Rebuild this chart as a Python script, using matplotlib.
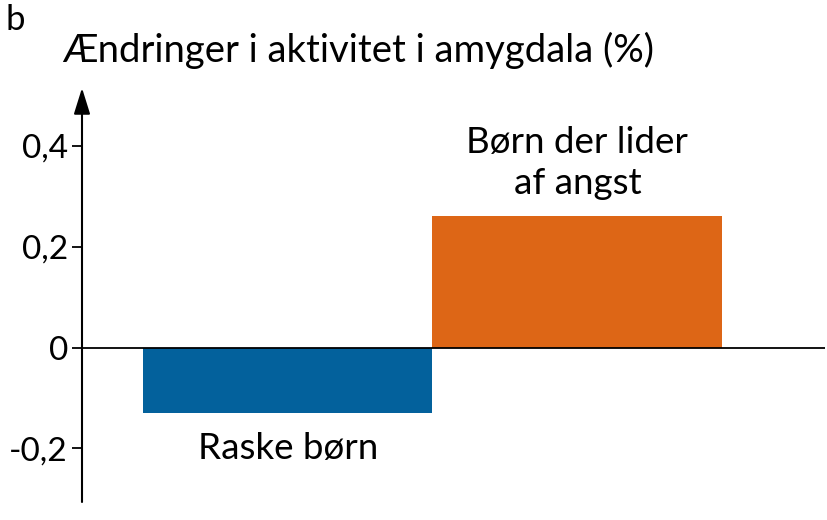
import matplotlib.pyplot as plt

# data
groups = ["Raske børn", "Børn der lider\naf angst"]
change = [-0.13, 0.26]
bar_colors = ["#03619c", "#dd6616"]
yticks = [-0.2, 0, 0.2, 0.4]
ytick_labels = ["-0,2", "0", "0,2", "0,4"]

plt.rcParams['font.family'] = ['Lato', 'DejaVu Sans']

fig = plt.figure(figsize=(8.27, 5.2), dpi=100)
ax = fig.add_axes([82 / 827, 18 / 520, 743 / 827, 414 / 520])

x = [0, 1]
ax.bar(x, change, width=1.0, color=bar_colors, align='center', zorder=2)

ax.set_xlim(-0.71, 1.855)
ax.set_ylim(-0.306, 0.514)

# zero line across the plot
ax.axhline(0, color='black', linewidth=1.3, zorder=3)

# y axis with an arrow head
for s in ['top', 'right', 'bottom', 'left']:
    ax.spines[s].set_visible(False)
ax.annotate('', xy=(0, 1.0), xytext=(0, 0), xycoords='axes fraction',
            arrowprops=dict(arrowstyle='-|>,head_length=0.8,head_width=0.25',
                            color='black', lw=1.5, mutation_scale=20,
                            shrinkA=0, shrinkB=0))

ax.set_xticks([])
ax.set_yticks(yticks)
ax.set_yticklabels(ytick_labels, fontsize=24)
ax.tick_params(axis='y', length=7, width=1.3, pad=3, direction='out')

# bar labels
ax.text(x[0], -0.2, groups[0], ha='center', va='center', fontsize=26.5)
ax.text(x[1], 0.365, groups[1], ha='center', va='center', fontsize=26.5,
        linespacing=1.3)

fig.text(62 / 827, 1 - 50 / 520, "Ændringer i aktivitet i amygdala (%)",
         fontsize=27.5, ha='left', va='center')
fig.text(5 / 827, 1 - 20 / 520, "b", fontsize=25, ha='left', va='center')

fig.savefig("out.png", dpi=100)
